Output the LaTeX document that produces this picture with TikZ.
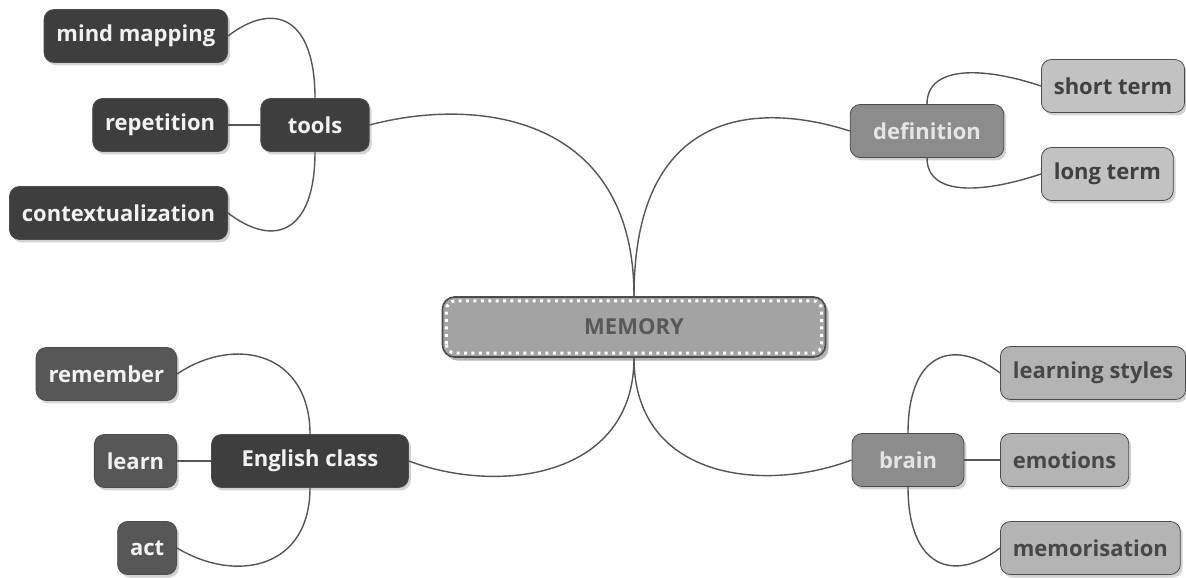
\documentclass[tikz,border=0pt]{standalone}
\usepackage{fontspec}
\setmainfont{Open Sans}
\usetikzlibrary{shadows}

\definecolor{darknode}{HTML}{3E3E3E}
\definecolor{midnode}{HTML}{575757}
\definecolor{greynode}{HTML}{8C8C8C}
\definecolor{lightnode}{HTML}{C2C2C2}
\definecolor{palenode}{HTML}{B4B4B4}
\definecolor{centrenode}{HTML}{A3A3A3}
\definecolor{linkgrey}{HTML}{555555}

\begin{document}
\begin{tikzpicture}[x=0.5pt, y=0.5pt,
    box/.style={rounded corners=5pt, minimum height=26.5pt, inner xsep=6.2pt,
        font=\fontsize{11}{13}\selectfont\bfseries, draw=black!70, line width=0.4pt,
        drop shadow={shadow xshift=1.2pt, shadow yshift=-1.5pt, opacity=0.35}},
    topic/.style={box, inner xsep=13.5pt},
    darkbox/.style={fill=darknode, text=white!95!black},
    midbox/.style={fill=midnode, text=white!95!black},
    greybox/.style={fill=greynode, text=white!90!black},
    lightbox/.style={fill=lightnode, text=black!75},
    palebox/.style={fill=palenode, text=black!72},
    link/.style={draw=linkgrey, line width=0.7pt}]
    \useasboundingbox (0,0) rectangle (1186,577);

    % Centre
    \node[rounded corners=6pt, minimum width=191.5pt, minimum height=30pt,
        fill=centrenode, draw=black!70, line width=0.8pt, text=black!65,
        font=\fontsize{11}{13}\selectfont\bfseries,
        drop shadow={shadow xshift=1.5pt, shadow yshift=-1.8pt, opacity=0.6}]
        (mem) at (634,250) {MEMORY};
    \draw[white, line width=1.5pt, dash pattern=on 1.5pt off 2.2pt, rounded corners=4.5pt]
        ([shift={(2.3pt,2.3pt)}]mem.south west) rectangle ([shift={(-2.3pt,-2.3pt)}]mem.north east);

    % Topics
    \node[topic, darkbox] (tools) at (315,452) {tools};
    \node[topic, greybox, inner xsep=11.5pt] (defn) at (927,446) {definition};
    \node[topic, darkbox, inner xsep=15pt] (english) at (310,116) {English class};
    \node[topic, greybox] (brain) at (908,117) {brain};

    % Leaves, left side
    \node[box, darkbox, anchor=east] (mindmap) at (228,541) {mind mapping};
    \node[box, darkbox, anchor=east] (repet) at (228,452) {repetition};
    \node[box, darkbox, anchor=east] (context) at (228,364) {contextualization};
    \node[box, midbox, anchor=east] (remember) at (177,203) {remember};
    \node[box, midbox, anchor=east] (learn) at (177,116) {learn};
    \node[box, midbox, anchor=east] (act) at (177,29) {act};

    % Leaves, right side
    \node[box, lightbox, anchor=west] (shortterm) at (1041,491) {short term};
    \node[box, lightbox, anchor=west] (longterm) at (1041,403) {long term};
    \node[box, palebox, anchor=west] (styles) at (1000,204) {learning styles};
    \node[box, palebox, anchor=west] (emotions) at (1000,117) {emotions};
    \node[box, palebox, anchor=west] (memo) at (1000,29) {memorisation};

    % Links from the centre
    \draw[link] (mem.north) .. controls +(0,180) and +(109,29) .. (tools.east);
    \draw[link] (mem.north) .. controls +(0,190) and +(-90,29) .. (defn.west);
    \draw[link] (mem.south) .. controls +(0,-120) and +(90,-34) .. (english.east);
    \draw[link] (mem.south) .. controls +(0,-120) and +(-90,-34) .. (brain.west);

    % Links to the leaves
    \draw[link] (tools.north) .. controls +(0,80) and +(47,36) .. (mindmap.east);
    \draw[link] (tools.west) -- (repet.east);
    \draw[link] (tools.south) .. controls +(0,-80) and +(47,-36) .. (context.east);
    \draw[link] (defn.north) .. controls +(0,38) and +(-60,20) .. (shortterm.west);
    \draw[link] (defn.south) .. controls +(0,-38) and +(-60,-20) .. (longterm.west);
    \draw[link] (english.north) .. controls +(0,80) and +(60,40) .. (remember.east);
    \draw[link] (english.west) -- (learn.east);
    \draw[link] (english.south) .. controls +(0,-80) and +(60,-36) .. (act.east);
    \draw[link] (brain.north) .. controls +(0,80) and +(-47,36) .. (styles.west);
    \draw[link] (brain.east) -- (emotions.west);
    \draw[link] (brain.south) .. controls +(0,-80) and +(-47,-36) .. (memo.west);
\end{tikzpicture}
\end{document}
